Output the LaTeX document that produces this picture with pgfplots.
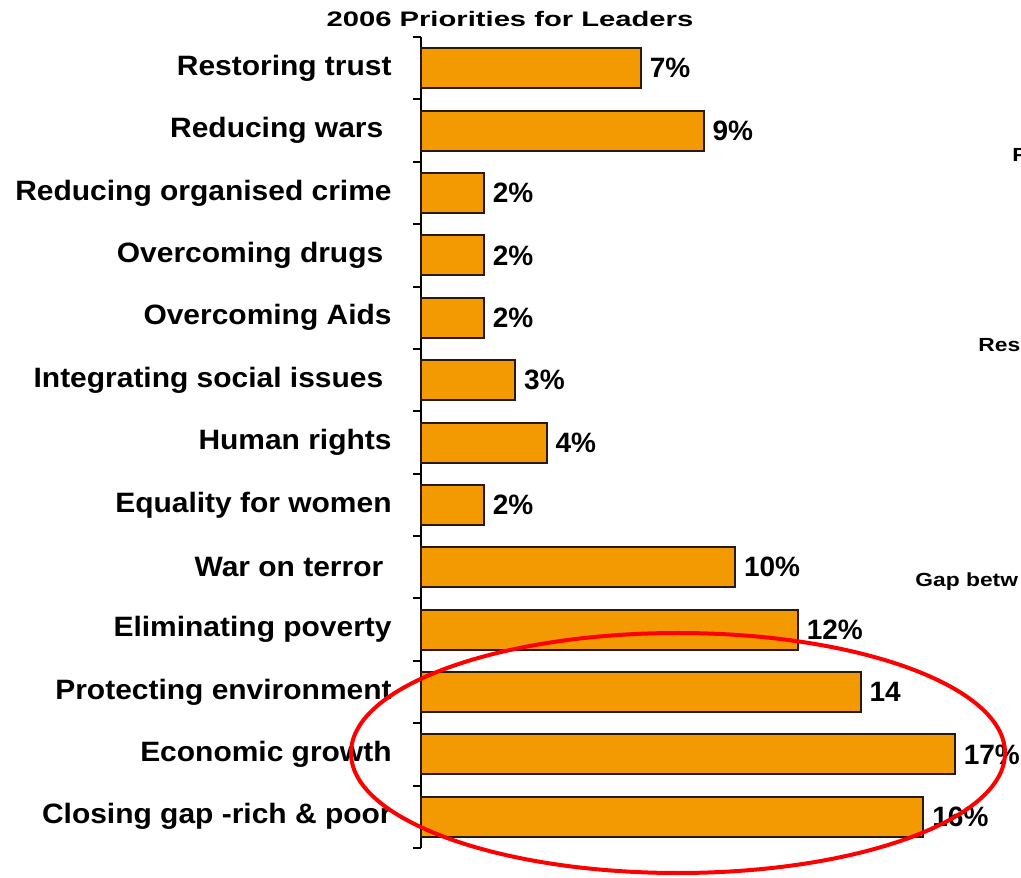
\documentclass[border=0pt]{standalone}
\usepackage{pgfplots}
\pgfplotsset{compat=1.18}
\usepackage{pgfplotstable}
\usepackage{graphicx}
\usepackage{fontspec}
\setmainfont{Liberation Sans}
\definecolor{barorange}{RGB}{243,153,2}
\definecolor{baredge}{RGB}{40,25,10}
\newcommand\lab[1]{\scalebox{1.07}[1]{\fontsize{14}{16}\selectfont\bfseries #1}}
\newcommand\vlab[1]{\scalebox{1.0}[1]{\fontsize{14}{16}\selectfont\bfseries #1}}
\pgfplotstableread{
v y lab
7 0 7\%
9 1 9\%
2 2 2\%
2 3 2\%
2 4 2\%
3 5 3\%
4 6 4\%
2 7 2\%
10 8 10\%
12 9 12\%
14 10 14
17 11 17\%
16 12 16\%
}\datatab
\begin{document}
\begin{tikzpicture}[x=0.5pt,y=0.5pt]
\useasboundingbox (0,0) rectangle (1021,877);
\begin{axis}[
  at={(210.5pt,14.5pt)}, anchor=south west,
  scale only axis, width=282.6pt, height=405.5pt,
  xmin=0, xmax=18, ymin=-0.5, ymax=12.5, y dir=reverse,
  axis x line=none, axis y line*=left,
  y axis line style={-, line width=1pt, black},
  ytick={0,...,12},
  yticklabels={\lab{Restoring trust},\lab{Reducing wars\ },\lab{Reducing organised crime},\lab{Overcoming drugs\ },\lab{Overcoming Aids},\lab{Integrating social issues\ },\lab{Human rights},\lab{Equality for women},\lab{War on terror\ },\lab{Eliminating poverty},\lab{Protecting environment},\lab{Economic growth},\lab{Closing gap -rich \& poor}},
  major tick length=0pt,
  minor ytick={-0.5,0.5,...,12.5}, minor tick length=4pt, tick align=outside,
  minor tick style={line width=1pt, black},
  yticklabel style={anchor=east, inner sep=0pt, xshift=-14.5pt},
  xbar, bar width=20pt, bar shift=0pt,
  point meta=explicit symbolic,
  nodes near coords={\vlab{\pgfplotspointmeta}},
  every node near coord/.append style={anchor=west, inner sep=0pt, xshift=4pt, black},
  clip=false,
]
\addplot[fill=barorange, draw=baredge, line width=1pt] table[x=v, y=y, meta=lab] {\datatab};
\end{axis}
\node at (510,858) {\scalebox{1.39}[1]{\fontsize{10.5}{12}\selectfont\bfseries 2006 Priorities for Leaders}};
\draw[red, line width=2pt] (678,124) ellipse [x radius=163.5pt, y radius=60pt];
\begin{scope}
\clip (0,0) rectangle (1021,877);
\node[anchor=base west, inner sep=0pt] at (1012,715) {\scalebox{1.2}[1]{\fontsize{9.5}{11}\selectfont\bfseries F}};
\node[anchor=base west, inner sep=0pt] at (978,525) {\scalebox{1.2}[1]{\fontsize{9.5}{11}\selectfont\bfseries Res}};
\node[anchor=base west, inner sep=0pt] at (915,290) {\scalebox{1.2}[1]{\fontsize{9.5}{11}\selectfont\bfseries Gap betw}};
\end{scope}
\end{tikzpicture}
\end{document}
